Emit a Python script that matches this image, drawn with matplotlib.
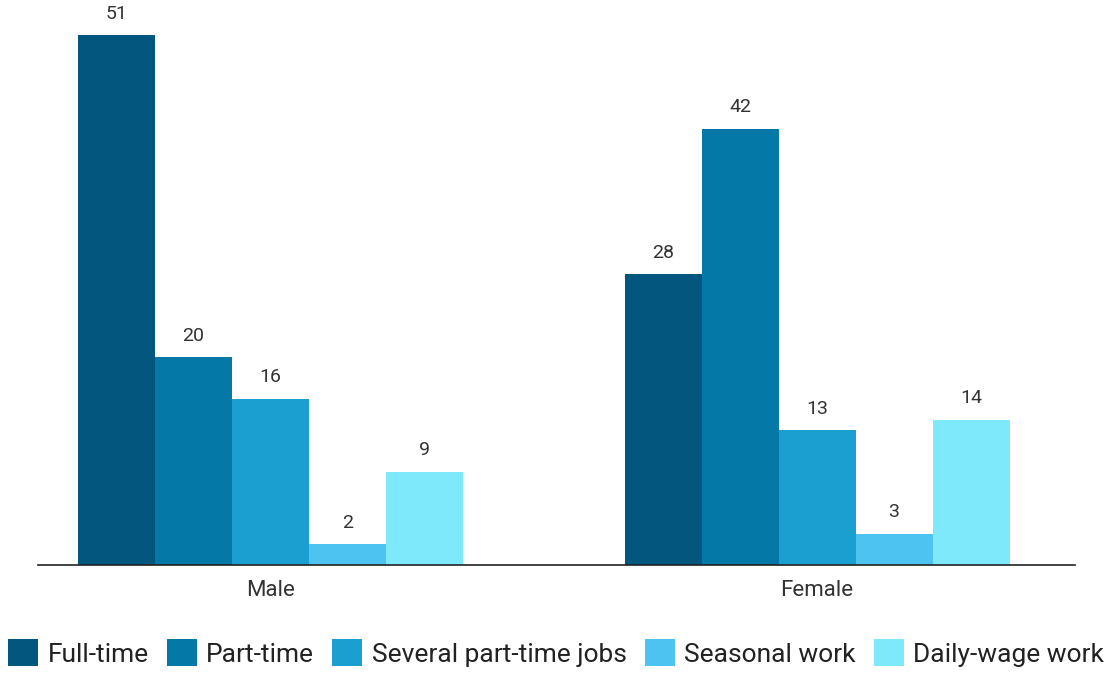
import matplotlib.pyplot as plt
import numpy as np

plt.rcParams['font.family'] = ['Roboto', 'DejaVu Sans']

# Data
groups = ['Male', 'Female']
series = ['Full-time', 'Part-time', 'Several part-time jobs', 'Seasonal work', 'Daily-wage work']
values = {
    'Full-time': [51, 28],
    'Part-time': [20, 42],
    'Several part-time jobs': [16, 13],
    'Seasonal work': [2, 3],
    'Daily-wage work': [9, 14],
}
colors = ['#03577f', '#0479a8', '#1a9fd0', '#4cc3f0', '#7ee9fa']

fig = plt.figure(figsize=(11.12, 6.73), dpi=100)
ax = fig.add_axes([38 / 1112, 108 / 673, (1075 - 38) / 1112, 565 / 673])

x = np.arange(len(groups))
width = 0.1409
for i, (name, color) in enumerate(zip(series, colors)):
    offs = (i - 2) * width
    bars = ax.bar(x + offs, values[name], width, color=color, label=name)
    for b, v in zip(bars, values[name]):
        ax.text(b.get_x() + b.get_width() / 2, v + 1.2, str(v), ha='center', va='bottom',
                fontsize=14, color='#333333', clip_on=False)

ax.set_xlim(-0.4254, 1.472)
ax.set_ylim(0, 54.4)
ax.set_xticks(x)
ax.set_xticklabels(groups, fontsize=16, color='#333333')
ax.tick_params(axis='x', length=0, pad=11)
ax.set_yticks([])
for s in ['top', 'right', 'left']:
    ax.spines[s].set_visible(False)
ax.spines['bottom'].set_color('#222222')
ax.spines['bottom'].set_linewidth(1.2)

fig.legend(loc='center', bbox_to_anchor=(0.5, 1 - 653 / 673), ncol=5, frameon=False,
           fontsize=19, handlelength=1.15, handleheight=1.15, handletextpad=0.35,
           columnspacing=0.68, labelcolor='#222222', borderpad=0, borderaxespad=0)

fig.savefig('out.png', dpi=100)
